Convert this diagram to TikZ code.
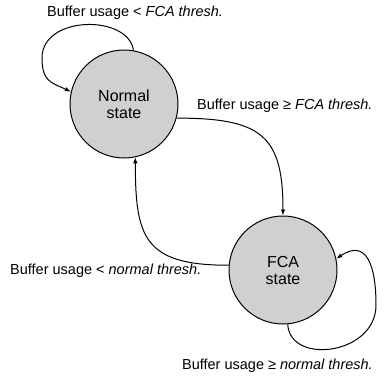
\documentclass[tikz,border=0pt]{standalone}
\usepackage{fontspec}
\setmainfont{Liberation Sans}
\usepackage{xcolor}
\definecolor{stategray}{RGB}{208,208,208}
\usepackage{tikz}
\usetikzlibrary{arrows.meta}

\begin{document}
\begin{tikzpicture}[x=1pt, y=1pt,
        state/.style={circle, draw, line width=1pt, fill=stategray, minimum size=108pt,
            inner sep=0pt, align=center, font=\fontsize{16}{17}\selectfont},
        trans/.style={line width=1pt, -{Latex[length=6pt, width=4.5pt]}},
        cond/.style={font=\fontsize{14.5}{16}\selectfont, inner sep=0pt}]
    \useasboundingbox (0,0) rectangle (389,-380);
    \node [state] (normal) at (124,-104) {Normal\\state};
    \node [state] (fca) at (283,-270) {FCA\\state};
    \coordinate (normalloop) at (42,-58);
    \coordinate (fcaloop) at (376,-305);
    % transitions
    \draw [trans] (normal.80) .. controls +(-5,36) and +(0,43) .. (normalloop)
        .. controls +(0,-24) and +(-19,9) .. (normal.167);
    \draw [trans] (normal.-15) .. controls +(85,0) and +(0,80) .. (fca.north);
    \draw [trans] (fca.175) .. controls +(-85,0) and +(0,-80) .. (normal.-78);
    \draw [trans] (fca.-85) .. controls +(2,-41) and +(0,-50) .. (fcaloop)
        .. controls +(0,40) and +(30,20) .. (fca.12);
    % conditions
    \node [cond, anchor=west] (upper) at (47,-13) {Buffer usage < \textit{FCA thresh.}};
    \node [cond, anchor=west] (toFCA) at (197,-106) {Buffer usage ≥ \textit{FCA thresh.}};
    \node [cond, anchor=west] (toNormal) at (10,-271) {Buffer usage < \textit{normal thresh.}};
    \node [cond, anchor=east] (lower) at (373,-366) {Buffer usage ≥ \textit{normal thresh.}};
\end{tikzpicture}
\end{document}
